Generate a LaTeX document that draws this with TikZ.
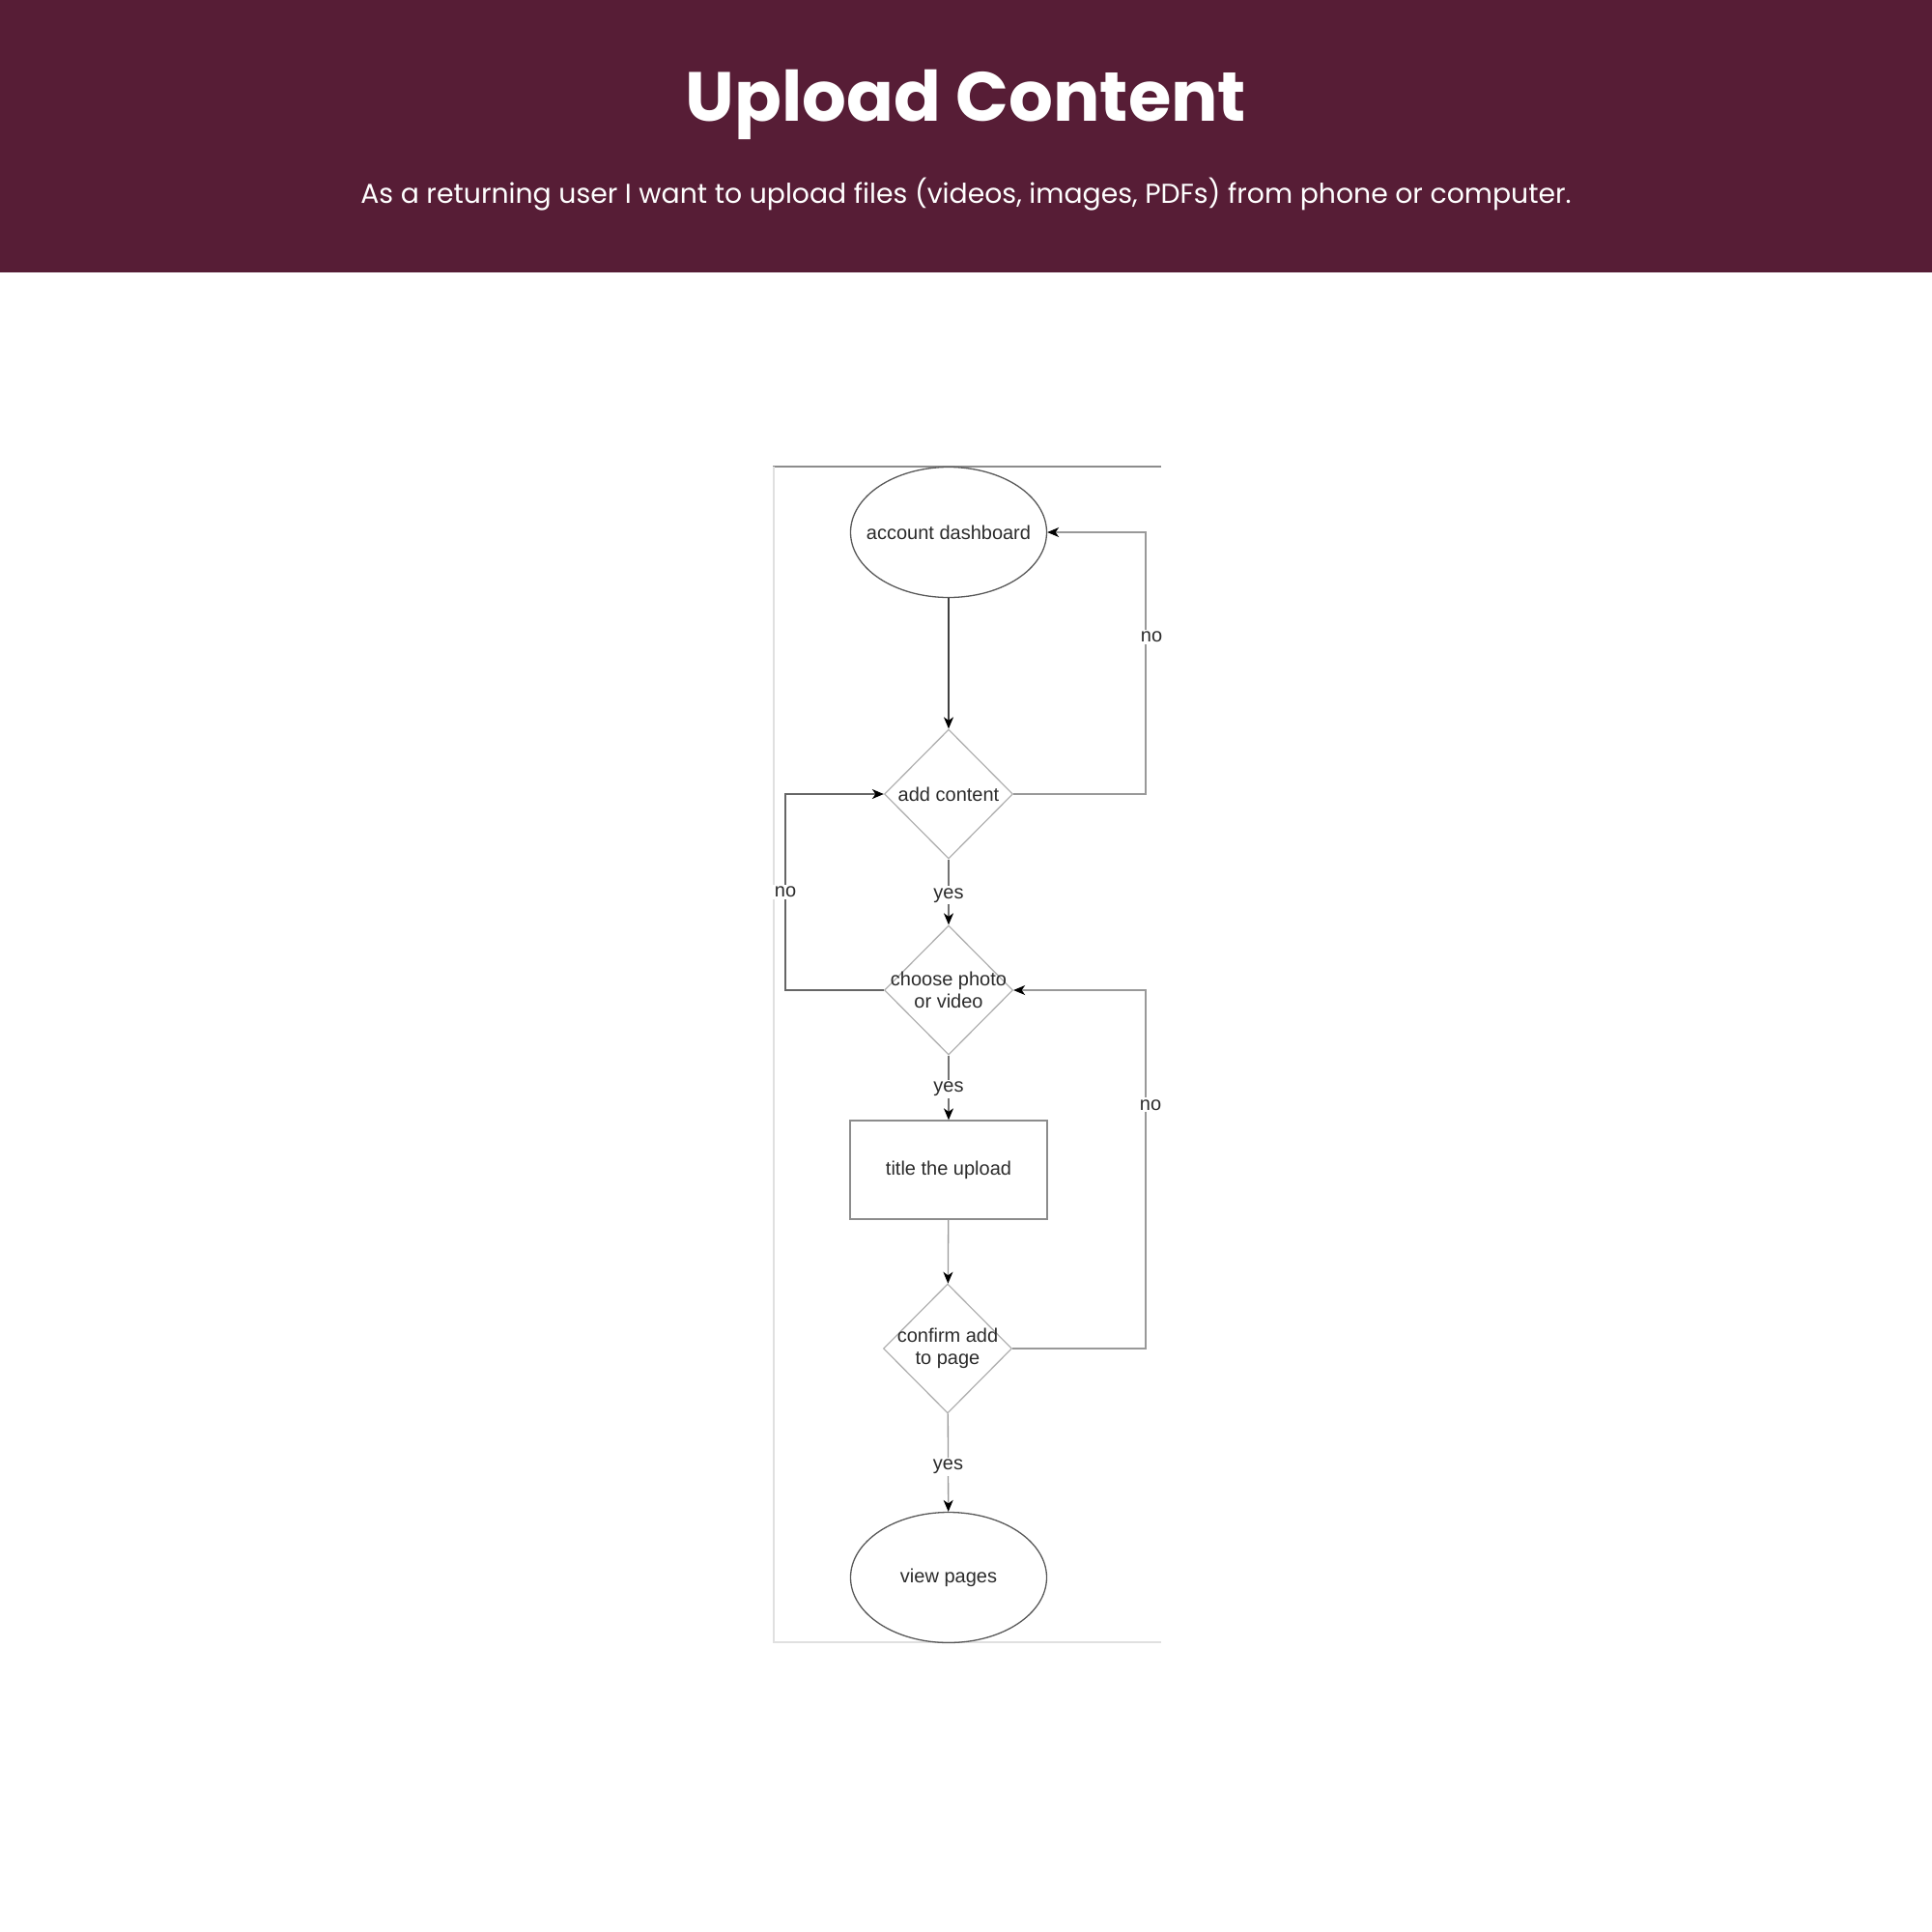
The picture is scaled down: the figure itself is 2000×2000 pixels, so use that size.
\documentclass[tikz,border=0pt]{standalone}
\usepackage{fontspec}
\setmainfont{Poppins}
\newfontfamily\arialfont{Liberation Sans}
\usetikzlibrary{shapes.geometric,arrows.meta}
\definecolor{banner}{HTML}{571D36}
\definecolor{ink}{HTML}{2B2B2B}
\tikzset{
  flowtxt/.style={font=\arialfont\fontsize{20}{23}\selectfont,text=ink},
  oval/.style={ellipse,draw=black!65,line width=1.3pt,minimum width=203pt,minimum height=135pt,inner sep=0pt,flowtxt},
  decide/.style={diamond,draw=black!30,line width=1.3pt,minimum width=133pt,minimum height=134pt,inner sep=0pt},
  stepbox/.style={rectangle,draw=black!45,line width=1.3pt,minimum width=204pt,minimum height=102pt,flowtxt},
  arr/.style={-{Stealth[length=12pt,width=10pt,inset=3.5pt,color=black]},line width=1.3pt},
  lbl/.style={fill=white,inner sep=2pt,flowtxt}
}
\begin{document}
\begin{tikzpicture}[x=1pt,y=-1pt]
  \useasboundingbox(0,0)rectangle(2000,2000);
  % banner
  \fill[banner](0,0)rectangle(2000,282);
  \node[anchor=base,text=white,font=\bfseries\fontsize{72}{80}\selectfont](title)at(1000,125){Upload Content};
  \node[anchor=base,text=white,font=\fontsize{28.3}{33}\selectfont](story)at(1000,210){As a returning user I want to upload files (videos, images, PDFs) from phone or computer.};
  % frame of the flow chart
  \draw[black!45,line width=2pt](800,483)--(1202,483);
  \draw[black!12,line width=2pt](801,483)--(801,1700)--(1202,1700);
  \begin{scope}
    \clip(800,482)rectangle(1202,1701);
    \node[oval](dash)at(982,551){\makebox[0pt]{account dashboard}};
    \node[decide,label={[flowtxt]center:add content}](add)at(982,822){};
    \node[decide,label={[flowtxt,align=center]center:choose photo\\or video}](photo)at(982,1025){};
    \node[stepbox](upl)at(982,1211){title the upload};
    \node[decide,label={[flowtxt,align=center]center:confirm add\\to page}](conf)at(981,1396){};
    \node[oval](view)at(982,1633){\makebox[0pt]{view pages}};
    \coordinate(nr)at(1186,551);\coordinate(nl)at(813,822);\coordinate(nr2)at(1186,1025);
    % connectors
    \draw[arr,black!75](dash)--(add);
    \draw[arr,black!55](add)--node[lbl,pos=0.55]{yes}(photo);
    \draw[arr,black!55](photo)--node[lbl,pos=0.52]{yes}(upl);
    \draw[arr,black!40](upl)--(conf);
    \draw[arr,black!40](conf)--node[lbl,pos=0.54]{yes}(view);
    \draw[arr,black!40](add.east)-|(nr)node[lbl,pos=0.8,xshift=6pt]{no}--(dash.east);
    \draw[arr,black!60](photo.west)-|(nl)node[lbl,pos=0.75]{no}--(add.west);
    \draw[arr,black!40](conf.east)-|(nr2)node[lbl,pos=0.84,xshift=5pt]{no}--(photo.east);
  \end{scope}
\end{tikzpicture}
\end{document}
